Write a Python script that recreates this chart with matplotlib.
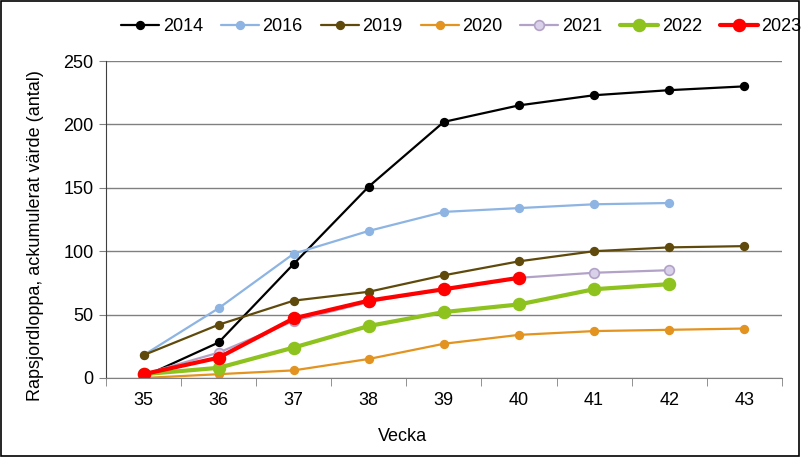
import matplotlib
matplotlib.use("Agg")
import matplotlib.pyplot as plt
from matplotlib.patches import Rectangle

plt.rcParams['font.family'] = ['Liberation Sans', 'DejaVu Sans']

weeks = [35, 36, 37, 38, 39, 40, 41, 42, 43]
s2014 = [1, 28, 90, 151, 202, 215, 223, 227, 230]
s2016 = [18, 55, 98, 116, 131, 134, 137, 138]
s2019 = [18, 42, 61, 68, 81, 92, 100, 103, 104]
s2020 = [0, 3, 6, 15, 27, 34, 37, 38, 39]
s2021 = [3, 20, 45, 60, 70, 79, 83, 85]
s2022 = [3, 8, 24, 41, 52, 58, 70, 74]
s2023 = [3, 16, 47, 61, 70, 79]

series = [
    ("2014", s2014, "#000000", "#000000", 1.6, 5.5),
    ("2016", s2016, "#8DB4E2", "#8DB4E2", 1.6, 5.5),
    ("2019", s2019, "#604A0B", "#604A0B", 1.6, 5.5),
    ("2020", s2020, "#E3931F", "#E3931F", 1.6, 5.5),
    ("2021", s2021, "#B3A2C7", "#D9D0EA", 1.6, 7),
    ("2022", s2022, "#8DC21F", "#8DC21F", 3.0, 8.5),
    ("2023", s2023, "#FF0000", "#FF0000", 3.0, 8.5),
]

fig = plt.figure(figsize=(8.01, 4.57), dpi=100)
ax = fig.add_axes([0.1323, 0.1729, 0.8437, 0.6936])

for name, vals, col, face, lw, ms in series:
    ax.plot(weeks[:len(vals)], vals, color=col, lw=lw, marker='o', ms=ms,
            markerfacecolor=face, markeredgecolor=col, markeredgewidth=1.2,
            label=name, solid_capstyle='round')

ax.set_xlim(34.5, 43.5)
ax.set_ylim(0, 250)
ax.set_yticks(range(0, 251, 50))
ax.set_xticks(weeks)
ax.set_xticks([w + 0.5 for w in [34] + weeks], minor=True)
ax.tick_params(axis='x', which='major', length=0, labelsize=13, pad=10)
ax.tick_params(axis='x', which='minor', length=6, color='#808080', direction='out')
ax.tick_params(axis='y', length=5, direction='out', labelsize=13, pad=4, color='#808080')
ax.yaxis.grid(True, color='#808080', lw=1)
ax.set_axisbelow(True)
for sp in ['top', 'right']:
    ax.spines[sp].set_visible(False)
ax.spines['bottom'].set_color('#808080')
ax.spines['left'].set_color('#404040')

ax.set_xlabel("Vecka", fontsize=13)
ax.xaxis.set_label_coords(0.439, -0.186)
ax.xaxis.label.set_verticalalignment('center')
ax.set_ylabel("Rapsjordloppa, ackumulerat värde (antal)", fontsize=13)
ax.yaxis.set_label_coords(-0.105, 0.45)
ax.yaxis.label.set_verticalalignment('center')

fig.legend(loc='center', bbox_to_anchor=(0.576, 0.941), ncol=7, frameon=False,
           fontsize=13, handlelength=2.1, columnspacing=1.0, handletextpad=0.2)

fig.patches.append(Rectangle((0.001, 0.002), 0.997, 0.996, transform=fig.transFigure,
                             fill=False, edgecolor='black', lw=1.2))

fig.savefig("out.png", dpi=100)
